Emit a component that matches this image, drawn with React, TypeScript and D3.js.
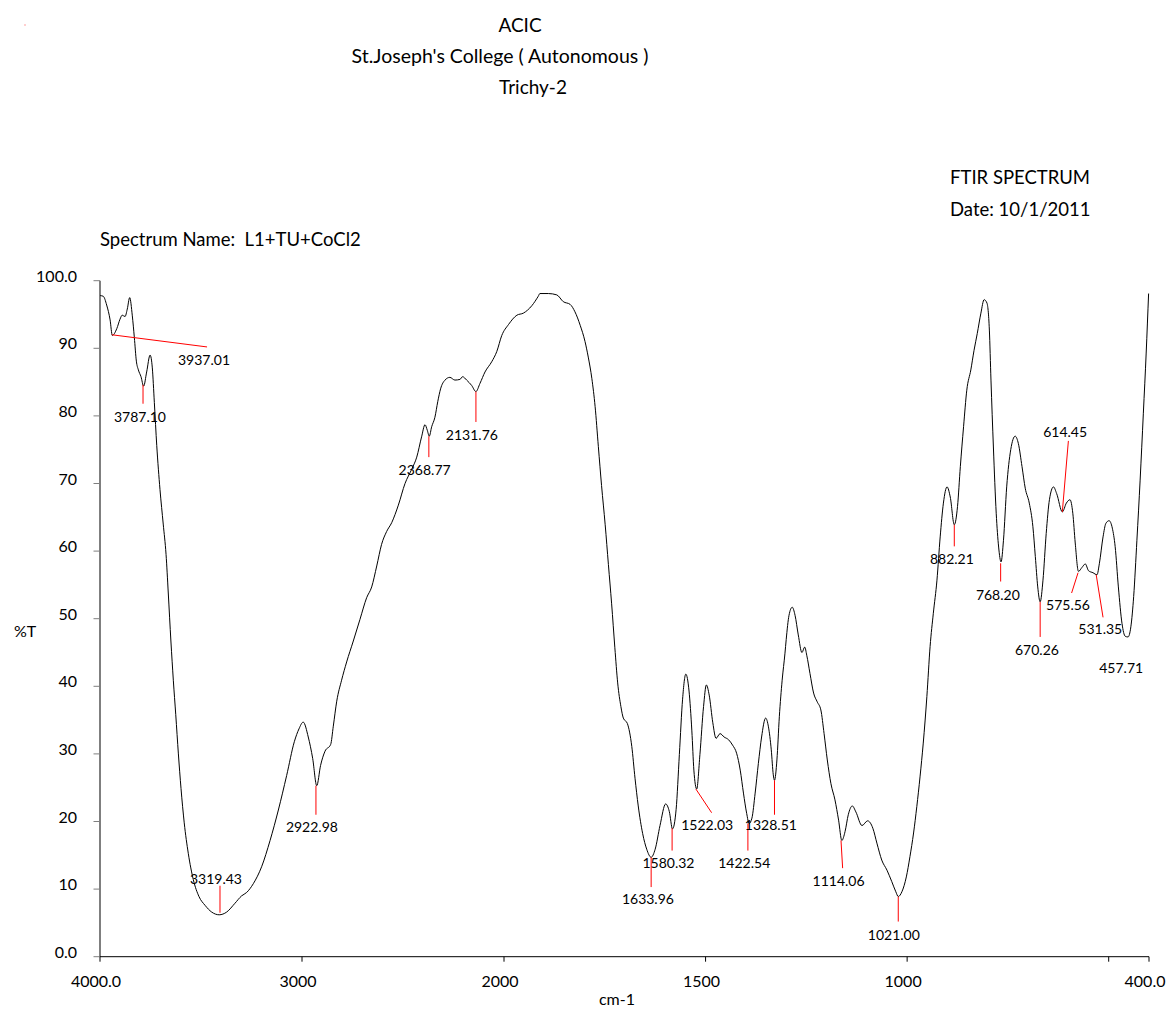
import React from "react";
import * as d3 from "d3";

// Wavenumber (cm-1) and transmittance (%T)
const wavenumbers = [
  3999, 3984, 3967, 3950, 3939, 3917, 3901, 3890, 3876, 3865, 3853, 3840, 3830, 3820, 3810, 3797, 3784, 3769, 3752, 3741,
  3731, 3719, 3703, 3687, 3673, 3662, 3649, 3637, 3625, 3612, 3599, 3583, 3563, 3538, 3510, 3480, 3447, 3410, 3373, 3332,
  3299, 3274, 3241, 3200, 3158, 3117, 3076, 3038, 3015, 2994, 2969, 2947, 2927, 2908, 2886, 2858, 2845, 2828, 2804, 2779,
  2746, 2713, 2680, 2655, 2630, 2606, 2581, 2556, 2523, 2490, 2457, 2432, 2408, 2391, 2380, 2370, 2358, 2342, 2328, 2314,
  2292, 2268, 2243, 2218, 2205, 2185, 2160, 2139, 2119, 2094, 2061, 2036, 2011, 1989, 1968, 1952, 1931, 1915, 1911, 1890,
  1869, 1853, 1836, 1824, 1811, 1799, 1791, 1782, 1774, 1766, 1758, 1749, 1741, 1733, 1725, 1718, 1710, 1704, 1694, 1683,
  1675, 1667, 1656, 1646, 1635, 1625, 1613, 1599, 1590, 1582, 1573, 1565, 1557, 1549, 1541, 1534, 1529, 1522, 1514, 1505,
  1498, 1491, 1482, 1474, 1464, 1454, 1443, 1433, 1423, 1414, 1406, 1398, 1392, 1385, 1377, 1369, 1361, 1351, 1344, 1337,
  1332, 1329, 1323, 1317, 1310, 1303, 1300, 1293, 1285, 1278, 1270, 1261, 1254, 1249, 1241, 1232, 1223, 1214, 1206, 1198,
  1189, 1179, 1170, 1162, 1154, 1146, 1136, 1127, 1112, 1098, 1085, 1075, 1063, 1050, 1038, 1028, 1022, 1013, 1002, 993,
  984, 976, 968, 960, 951, 943, 935, 926, 918, 910, 901, 893, 883, 875, 868, 860, 852, 842, 834, 826,
  817, 809, 802, 796, 792, 786, 779, 773, 767, 761, 753, 743, 732, 724, 715, 707, 697, 688, 682, 676,
  670, 663, 655, 647, 637, 629, 615, 605, 596, 589, 583, 575, 566, 558, 550, 539, 529, 523, 514, 507,
  499, 491, 484, 476, 467, 459, 452, 445, 438, 430, 422, 414, 407, 401,
];

const transmittance = [
  97.8, 97.7, 96.4, 94.2, 91.9, 92.9, 94.3, 94.9, 94.7, 95.8, 97.5, 94.8, 91.6, 88.1, 86.8, 85.8, 84.4, 86.5, 89.0, 87.1,
  82.0, 75.6, 69.1, 64.0, 59.5, 53.8, 46.7, 40.9, 35.8, 30.0, 24.9, 19.8, 15.3, 11.4, 8.9, 7.6, 6.6, 6.2, 6.6, 7.9,
  9.0, 9.5, 10.8, 13.3, 17.2, 21.7, 26.8, 31.8, 33.7, 34.7, 32.5, 29.3, 25.3, 28.3, 30.4, 31.4, 34.1, 37.8, 40.9, 43.6,
  46.7, 49.9, 53.1, 54.7, 57.8, 61.0, 62.9, 64.2, 66.8, 70.0, 72.1, 73.9, 76.9, 78.7, 77.9, 77.0, 78.4, 79.8, 82.1, 84.0,
  85.3, 85.7, 85.3, 85.4, 85.8, 85.3, 84.5, 83.6, 84.8, 86.5, 88.0, 89.5, 91.9, 93.5, 94.9, 95.2, 96.3, 97.7, 98.1, 98.1,
  97.9, 96.9, 96.5, 95.4, 93.4, 91.0, 88.7, 85.5, 81.4, 75.5, 69.7, 63.9, 58.0, 52.2, 45.7, 40.5, 37.0, 35.3, 34.5, 31.1,
  26.4, 22.3, 18.2, 15.9, 14.7, 15.9, 19.4, 22.6, 21.5, 18.9, 21.8, 29.9, 38.1, 41.8, 39.3, 33.4, 27.6, 24.8, 29.9, 37.0,
  40.2, 38.7, 34.6, 32.3, 33.0, 32.5, 32.1, 31.3, 30.1, 27.6, 24.2, 21.2, 19.7, 20.5, 24.2, 28.6, 32.5, 35.3, 34.0, 30.6,
  26.9, 26.1, 29.1, 35.5, 40.9, 44.9, 46.9, 50.5, 51.7, 50.5, 47.6, 45.0, 45.8, 44.6, 41.9, 39.0, 37.7, 36.5, 33.0, 29.1,
  25.6, 23.2, 20.2, 17.2, 18.5, 21.0, 22.3, 21.4, 19.4, 20.1, 19.0, 16.8, 14.3, 12.8, 11.1, 9.6, 8.9, 9.6, 11.8, 14.8,
  18.3, 22.2, 26.6, 31.6, 38.5, 45.9, 50.8, 55.7, 62.1, 67.1, 69.5, 68.0, 63.9, 66.6, 72.5, 78.4, 83.8, 86.8, 89.7, 92.2,
  95.2, 97.2, 96.7, 92.7, 85.3, 75.4, 65.6, 60.6, 58.4, 61.6, 69.5, 75.0, 77.0, 75.9, 72.5, 69.3, 67.1, 63.6, 59.2, 54.7,
  52.5, 55.7, 62.6, 67.6, 69.5, 68.5, 65.8, 67.1, 67.6, 65.6, 61.2, 57.0, 57.6, 58.1, 57.1, 56.8, 56.5, 58.2, 62.1, 64.1,
  64.5, 63.4, 60.7, 54.7, 49.3, 47.4, 47.3, 48.8, 53.3, 61.6, 70.5, 80.4, 89.3, 98.1,
];

// Peak annotations: label, leader start / end (cm-1, %T), text anchor (cm-1, %T baseline)
const peakLabels = [
  "3937.01", "3787.10", "3319.43", "2922.98", "2368.77", "2131.76", "1633.96", "1580.32", "1522.03", "1422.54",
  "1328.51", "1114.06", "1021.00", "882.21", "768.20", "670.26", "614.45", "575.56", "531.35", "457.71",
];
const leaderStartWn = [3941, 3787, 3406, 2931, 2372, 2139, 1635, 1583, 1524, 1395, 1329, 1164, 1022, 883, 768, 670, 615, 576, 531, null];
const leaderStartT = [92.0, 84.6, 6.5, 25.3, 77.0, 83.6, 14.7, 19.0, 24.8, 19.7, 26.1, 17.2, 8.9, 63.9, 58.2, 52.5, 65.8, 56.8, 56.5, null];
const leaderEndWn = [3470, 3787, 3406, 2931, 2372, 2139, 1635, 1583, 1485, 1395, 1329, 1160, 1022, 883, 768, 670, 600, 592, 514, null];
const leaderEndT = [90.2, 81.8, 10.5, 21.0, 73.9, 79.1, 10.3, 15.7, 21.3, 15.7, 21.0, 13.1, 5.2, 60.7, 55.5, 47.3, 76.3, 53.8, 50.2, null];
const labelWn = [3485, 3802, 3426, 2951, 2393, 2159, 1643, 1592, 1496, 1404, 1338, 1170, 1033, 889, 775, 678, 608, 601, 521, 469];
const labelT = [87.5, 79.1, 10.8, 18.4, 71.3, 76.5, 7.8, 13.1, 18.7, 13.1, 18.7, 10.5, 2.5, 58.1, 52.8, 44.7, 76.9, 51.3, 47.7, 41.9];

const xTickValues = [4000, 3000, 2000, 1500, 1000, 500, 400];
const xTickLabels = ["4000.0", "3000", "2000", "1500", "1000", "", "400.0"];
const yTickValues = [0, 10, 20, 30, 40, 50, 60, 70, 80, 90, 100];
const yTickLabels = ["0.0", "10", "20", "30", "40", "50", "60", "70", "80", "90", "100.0"];

const FONT = "Lato, 'Open Sans', sans-serif";

export default function App() {
  const x = d3.scaleLinear().domain([4000, 2000, 400]).range([100, 504, 1149]);
  const y = d3.scaleLinear().domain([0, 100]).range([956.7, 280.7]);

  const pts: [number, number][] = wavenumbers.map((w, i) => [w, transmittance[i]]);
  const line = d3
    .line<[number, number]>()
    .x((d) => x(d[0]))
    .y((d) => y(d[1]))
    .curve(d3.curveMonotoneX);

  const y0 = y(0);

  return (
    <svg
      width={1170}
      height={1010}
      style={{ position: "absolute", left: 0, top: 0, background: "#fff" }}
      fontFamily={FONT}
    >
      <rect x={0} y={0} width={1170} height={1010} fill="#fff" />
      <rect x={24.5} y={24.5} width={1} height={1} fill="#ff4040" />

      {/* header */}
      <text x={520} y={32} textAnchor="middle" fontSize={19} fill="#000">ACIC</text>
      <text x={500} y={63} textAnchor="middle" fontSize={19.5} fill="#000">St.Joseph's College ( Autonomous )</text>
      <text x={533} y={94} textAnchor="middle" fontSize={19} fill="#000">Trichy-2</text>
      <text x={950} y={184} fontSize={18.5} fill="#000">FTIR SPECTRUM</text>
      <text x={950} y={216} fontSize={18.5} fill="#000">Date: 10/1/2011</text>
      <text x={100} y={246} fontSize={18.5} fill="#000" style={{ whiteSpace: "pre" }}>
        {"Spectrum Name:  L1+TU+CoCl2"}
      </text>

      {/* y axis */}
      <line x1={100} x2={100} y1={y(100)} y2={y0} stroke="#7f7f7f" strokeWidth={2} />
      {yTickValues.map((v, i) => (
        <g key={"yt" + v}>
          <line x1={93.5} x2={100} y1={y(v)} y2={y(v)} stroke="#7f7f7f" strokeWidth={1} />
          <text x={77} y={y(v) + 1} textAnchor="end" fontSize={16} fill="#000">
            {yTickLabels[i]}
          </text>
        </g>
      ))}

      {/* x axis */}
      <line x1={100} x2={x(400)} y1={y0} y2={y0} stroke="#000" strokeWidth={1} />
      {xTickValues.map((v, i) => (
        <g key={"xt" + v}>
          <line x1={x(v)} x2={x(v)} y1={y0} y2={y0 + 5} stroke="#000" strokeWidth={1} />
          <text x={x(v) - 4} y={987} textAnchor="middle" fontSize={16} fill="#000">
            {xTickLabels[i]}
          </text>
        </g>
      ))}

      <text x={14} y={637} fontSize={16} fill="#000">%T</text>
      <text x={617} y={1005} textAnchor="middle" fontSize={16} fill="#000">cm-1</text>

      {/* spectrum */}
      <path d={line(pts) || ""} fill="none" stroke="#000" strokeWidth={1} />

      {/* peak annotations */}
      {peakLabels.map((lab, i) => (
        <g key={"pk" + i}>
          {leaderStartWn[i] !== null && (
            <line
              x1={x(leaderStartWn[i] as number)}
              y1={y(leaderStartT[i] as number)}
              x2={x(leaderEndWn[i] as number)}
              y2={y(leaderEndT[i] as number)}
              stroke="#ff0000"
              strokeWidth={1}
            />
          )}
          <text x={x(labelWn[i])} y={y(labelT[i])} textAnchor="middle" fontSize={14} fill="#000">
            {lab}
          </text>
        </g>
      ))}
    </svg>
  );
}
